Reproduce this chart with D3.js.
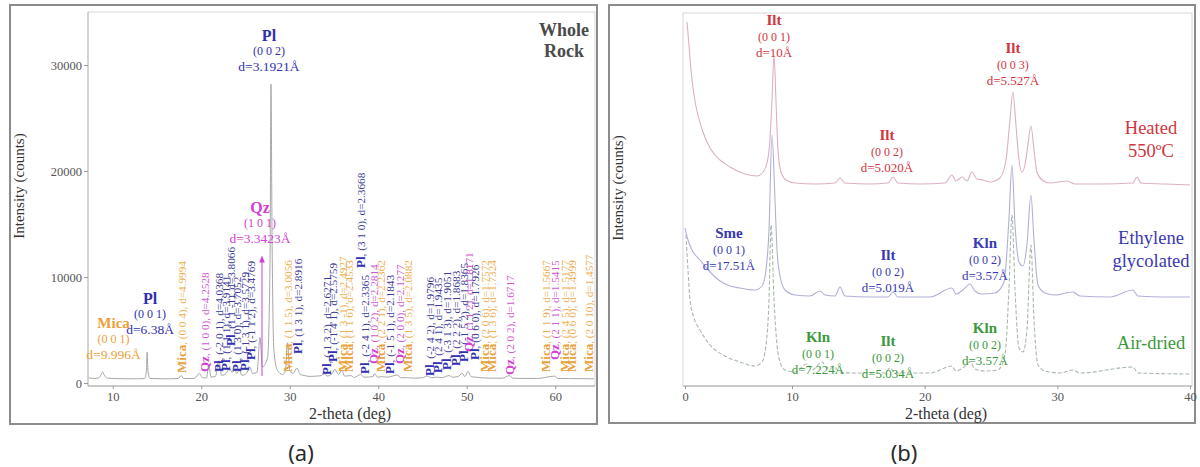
<!DOCTYPE html>
<html>
<head>
<meta charset="utf-8">
<script src="https://cdn.jsdelivr.net/npm/d3@7"></script>
<style>
  body { margin: 0; background: #fff; }
  svg { display: block; }
  svg text { font-family: "Liberation Serif", "Times New Roman", serif; }
  svg text.caption { font-family: "Noto Sans", "Open Sans", sans-serif; }
</style>
</head>
<body>
<svg id="fig" width="1200" height="467"></svg>
<script>
// ---------- Panel (a): whole-rock XRD pattern ----------
const wholeRockTheta = [7.3,7.8,8.4,8.7,8.85,9.0,9.4,10.2,11.5,12.8,13.6,13.8,13.88,13.98,14.2,15.5,16.5,17.4,17.75,18.0,19.2,19.8,20.1,20.6,20.85,21.1,21.6,22.0,22.3,22.8,23.2,23.5,23.7,24.0,24.3,24.6,25.1,25.5,25.8,26.3,26.64,26.9,27.5,27.78,27.88,28.0,28.2,28.6,29.2,29.5,29.75,30.0,30.4,30.8,31.2,31.7,32.2,33.0,33.6,33.9,34.2,34.8,35.1,35.5,35.9,36.2,36.9,37.3,38.0,38.4,39.4,39.6,39.9,40.5,41.0,42.2,42.5,43.3,44.0,45.0,45.6,46.0,46.6,47.2,48.0,48.4,49.0,49.5,49.8,50.15,50.5,51.0,51.6,52.5,54.0,54.85,55.2,56.5,58.0,59.95,60.3,61.5,62.0,64.0,64.4];
const wholeRockCounts = [480,430,480,800,1050,800,460,420,400,400,420,1100,2900,1100,430,400,400,420,700,420,430,900,520,480,1700,560,620,2100,720,900,1400,1000,1600,900,1200,720,900,1500,900,1000,4300,1500,2400,12000,28200,14000,3200,1200,800,1100,3800,1200,900,1400,800,700,620,650,700,1100,650,900,1300,800,1200,650,700,520,800,550,600,900,550,600,550,750,500,500,460,500,650,500,550,500,700,550,600,900,600,1100,600,550,500,460,450,700,450,430,430,650,430,420,420,400,400];

const tickA_x = [10, 20, 30, 40, 50, 60];
const tickA_y = [0, 10000, 20000, 30000];

// main labelled reflections
const mainMineral = ["Pl", "Qz", "Pl", "Mica"];
const mainHkl = ["(0 0 2)", "(1 0 1)", "(0 0 1)", "(0 0 1)"];
const mainD = ["d=3.1921Å", "d=3.3423Å", "d=6.38Å", "d=9.996Å"];
const mainTheta = [27.88, 26.64, 13.88, 8.85];

// minor reflections (vertical labels)
const refMineral = ["Mica","Qz","Pl","Pl","Pl","Pl","Pl","Pl","Mica","Pl","Pl","Pl","Mica","Mica","Pl","Pl","Qz","Mica","Pl","Qz","Mica","Pl","Pl","Pl","Pl","Pl","Qz","Pl","Mica","Mica","Qz","Mica","Qz","Mica","Mica","Mica"];
const refTheta = [17.75,20.4,22.0,22.7,23.35,24.0,24.9,25.6,29.7,30.9,34.1,34.8,36.0,36.6,38.0,38.5,39.45,40.3,41.3,42.45,43.3,45.8,46.7,47.7,48.7,49.6,50.15,50.9,52.0,52.8,54.85,58.9,59.95,61.0,61.8,63.8];
const refHkl = ["(0 0 4)","(1 0 0)","(-2 0 1)","(1 1 1)","(1 1 -1)","(1 3 0)","(-1 3 1)","(-1 1 2)","(1 1 5)","(1 3 1)","(-1 3 2)","(-1 4 1)","(1 3 -1)","(1 1 6)","(3 1 0)","(-2 4 1)","(1 0 2)","(2 2 1)","(-1 5 1)","(2 0 0)","(1 3 5)","(-2 4 2)","(2 4 1)","(-3 1 3)","(2 2 2)","(-1 5 2)","(1 1 2)","(0 6 0)","(2 0 6)","(1 3 6)","(2 0 2)","(1 1 9)","(2 1 1)","(2 4 5)","(0 6 0)","(2 0 10)"];
const refD = ["4.9994","4.2528","4.0368","3.9141","3.8066","3.7052","3.5729","3.4769","3.0056","2.8916","2.6271","2.5759","2.4927","2.4533","2.3668","2.3365","2.2814","2.2362","2.1843","2.1277","2.0882","1.9796","1.9435","1.9051","1.8683","1.8365","1.8171","1.7926","1.7572","1.7324","1.6717","1.5667","1.5415","1.5177","1.4999","1.4577"];

// ---------- Panel (b): oriented clay fraction ----------
const heatedTheta = [0.19,0.37,0.56,0.84,1.21,1.68,2.34,3.27,4.21,5.61,6.73,7.29,7.66,7.94,8.13,8.32,8.50,8.69,8.97,9.44,10.23,11.73,13.24,13.62,13.99,15.88,17.23,17.61,17.99,19.65,21.53,22.06,22.36,22.81,23.19,23.56,23.94,24.39,24.92,25.67,26.13,26.43,26.65,26.88,27.11,27.33,27.56,27.78,28.01,28.24,28.46,28.84,29.44,30.72,31.33,33.21,35.70,36.00,36.30,38.11,40.0];
const heatedCounts = [1640,1410,1160,910,710,540,380,260,190,120,100,140,230,460,860,1310,860,360,140,60,30,20,30,80,30,20,30,90,30,20,30,110,50,90,50,140,70,60,40,80,260,660,940,610,260,140,210,410,600,360,140,60,30,50,20,20,30,90,30,20,10];

const glycolTheta = [0,0.28,0.65,1.40,2.34,3.27,4.21,5.14,6.54,7.20,7.57,7.85,8.13,8.41,8.60,8.88,9.35,10.23,11.36,12.11,12.49,13.24,13.62,13.99,15.88,17.23,17.61,17.99,20.40,22.06,22.36,22.88,23.41,23.79,24.32,25.30,25.98,26.35,26.58,26.81,27.11,27.41,27.71,28.01,28.24,28.54,29.07,29.82,31.18,31.70,33.96,35.70,36.07,38.11,40.0];
const glycolCounts = [700,580,480,380,260,170,120,100,80,120,280,680,1630,980,480,220,80,30,20,70,30,20,110,20,10,10,60,10,10,100,40,80,140,70,40,50,160,780,1330,730,360,320,530,1030,580,130,50,30,60,20,10,80,20,10,10];

const airTheta = [0.09,0.28,0.47,0.84,1.40,2.34,3.74,5.14,6.54,7.20,7.57,7.85,8.04,8.32,8.60,8.88,9.35,10.23,11.13,11.51,12.26,12.64,13.09,13.62,14.75,17.01,17.39,17.76,20.40,22.06,22.36,22.88,23.41,23.79,24.54,25.52,26.05,26.35,26.58,26.81,27.11,27.41,27.71,28.01,28.24,28.54,29.07,30.20,31.18,31.70,35.70,36.07,40.0];
const airCounts = [1390,1040,740,560,440,290,180,120,80,120,290,740,1490,740,290,120,40,20,100,40,120,60,80,20,10,10,60,10,10,80,30,60,120,50,30,40,190,840,1590,840,260,220,440,1290,540,90,30,10,40,10,70,10,0];

const tickB_x = [0, 10, 20, 30, 40];

const clayMineral = ["Ilt","Ilt","Ilt","Sme","Ilt","Kln","Kln","Ilt","Kln"];
const clayHkl = ["(0 0 1)","(0 0 2)","(0 0 3)","(0 0 1)","(0 0 2)","(0 0 2)","(0 0 1)","(0 0 2)","(0 0 2)"];
const clayD = ["d=10Å","d=5.020Å","d=5.527Å","d=17.51Å","d=5.019Å","d=3.57Å","d=7.224Å","d=5.034Å","d=3.57Å"];
const clayTheta = [8.32,17.16,26.65,4.11,17.23,24.54,11.96,17.23,24.54];
const clayTreatment = ["heated","heated","heated","glycolated","glycolated","glycolated","airdried","airdried","airdried"];
const treatmentText = { heated: ["Heated", "550ºC"], glycolated: ["Ethylene", "glycolated"], airdried: ["Air-dried"] };

// ---------- drawing ----------
const svg = d3.select("#fig");
const defs = svg.append("defs");

// panel frames
svg.append("rect").attr("x", 10).attr("y", 5).attr("width", 587).attr("height", 419)
  .attr("fill", "none").attr("stroke", "#8c8c8c").attr("stroke-width", 2);
svg.append("rect").attr("x", 609).attr("y", 5).attr("width", 586).attr("height", 418)
  .attr("fill", "none").attr("stroke", "#8c8c8c").attr("stroke-width", 2);

function styleAxis(g) {
  g.select(".domain").remove();
  g.selectAll("line").attr("stroke", "#9a9a9a");
  g.selectAll("text").attr("font-family", null).attr("font-size", 12.5).attr("fill", "#555");
}

// ----- panel (a) -----
const A = { l: 88, r: 595, t: 12, b: 386 };
const xA = d3.scaleLinear().domain([7.2, 64.5]).range([A.l, A.r]);
const yA = d3.scaleLinear().domain([0, 30000]).range([383, 65]);

defs.append("clipPath").attr("id", "clipA")
  .append("rect").attr("x", A.l).attr("y", A.t).attr("width", A.r - A.l).attr("height", A.b - A.t);

svg.append("rect").attr("x", A.l).attr("y", A.t).attr("width", A.r - A.l).attr("height", A.b - A.t)
  .attr("fill", "none").attr("stroke", "#d8d8d8");
svg.append("line").attr("x1", A.l).attr("x2", A.r).attr("y1", A.b).attr("y2", A.b).attr("stroke", "#aaa");
svg.append("line").attr("x1", A.l).attr("x2", A.l).attr("y1", A.t).attr("y2", A.b).attr("stroke", "#bbb");

svg.append("g").attr("transform", `translate(0,${A.b})`)
  .call(d3.axisBottom(xA).tickValues(tickA_x).tickSize(3).tickPadding(3).tickSizeOuter(0))
  .call(styleAxis);
svg.append("g").attr("transform", `translate(${A.l},0)`)
  .call(d3.axisLeft(yA).tickValues(tickA_y).tickSize(4).tickPadding(2).tickFormat(d3.format("d")))
  .call(styleAxis);

svg.append("text").attr("x", 350).attr("y", 419).attr("text-anchor", "middle")
  .attr("font-size", 16).attr("fill", "#333").text("2-theta (deg)");
svg.append("text").attr("transform", "translate(24,186) rotate(-90)").attr("text-anchor", "middle")
  .attr("font-size", 15).attr("fill", "#333").text("Intensity (counts)");

const mineralColor = { Mica: "#e9a139", Qz: "#d23fd2", Pl: "#3030b0" };
const mineralSoft = { Mica: "#ecb052", Qz: "#cf58cf", Pl: "#3d3d98" };

// pattern
const lineA = d3.line().x(d => xA(d[0])).y(d => yA(d[1])).curve(d3.curveMonotoneX);
svg.append("path").datum(d3.zip(wholeRockTheta, wholeRockCounts))
  .attr("clip-path", "url(#clipA)")
  .attr("d", lineA).attr("fill", "none").attr("stroke", "#a8a8a8").attr("stroke-width", 1);

// vertical reference labels
const refBaseY = [373,372,372,371,346,372,371,360,372,354,375,362,372,372,268,374,364,372,374,364,372,376,373,370,366,362,352,360,372,372,375,372,360,372,372,372];
const refG = svg.append("g");
refMineral.forEach((m, i) => {
  const t = refG.append("text")
    .attr("transform", `translate(${xA(refTheta[i]) + 4.5},${refBaseY[i]}) rotate(-90)`);
  t.append("tspan").attr("font-weight", "bold").attr("font-size", 13).attr("fill", mineralColor[m]).text(m);
  t.append("tspan").attr("font-size", 11.2).attr("fill", mineralSoft[m]).text(`, ${refHkl[i]}, d=${refD[i]}`);
});

// arrow to the quartz (1 0 1) reflection
defs.append("marker").attr("id", "arrowQz").attr("viewBox", "0 0 10 10").attr("refX", 5).attr("refY", 5)
  .attr("markerWidth", 7).attr("markerHeight", 7).attr("orient", "auto")
  .append("path").attr("d", "M0,1 L10,5 L0,9 Z").attr("fill", mineralColor.Qz);
svg.append("line").attr("x1", xA(26.64) + 2).attr("x2", xA(26.64) + 2).attr("y1", 376).attr("y2", 259)
  .attr("stroke", mineralColor.Qz).attr("stroke-width", 1).attr("marker-end", "url(#arrowQz)");

// main labels
const mainLayout = [
  { dx: -2, y: 35, s: 16 }, { dx: 0, y: 207, s: 16 }, { dx: 3, y: 298, s: 16 }, { dx: 11, y: 323, s: 15 }
];
mainMineral.forEach((m, i) => {
  const L = mainLayout[i], x = xA(mainTheta[i]) + L.dx, y0 = L.y;
  const g = svg.append("g").attr("text-anchor", "middle").attr("fill", mineralColor[m]);
  g.append("text").attr("x", x).attr("y", y0).attr("dominant-baseline", "central")
    .attr("font-weight", "bold").attr("font-size", L.s).text(m);
  g.append("text").attr("x", x).attr("y", y0 + 16).attr("dominant-baseline", "central")
    .attr("font-size", 12).text(mainHkl[i]);
  g.append("text").attr("x", x).attr("y", y0 + 31).attr("dominant-baseline", "central")
    .attr("font-size", 13.5).text(mainD[i]);
});

svg.append("g").attr("font-weight", "bold").attr("font-size", 18)
  .attr("fill", "#4a4a4a").attr("text-anchor", "middle")
  .selectAll("text").data(["Whole", "Rock"]).join("text")
  .attr("x", 564).attr("y", (d, i) => 36 + i * 21).text(d => d);

// ----- panel (b) -----
const B = { l: 683, r: 1192, t: 13, b: 386 };
const xB = d3.scaleLinear().domain([0, 10, 40]).range([685, 792, 1190]);
const yB = d3.scaleLinear().domain([0, 3730]).range([B.b, B.t]);

defs.append("clipPath").attr("id", "clipB")
  .append("rect").attr("x", B.l).attr("y", B.t).attr("width", B.r - B.l).attr("height", B.b - B.t);

svg.append("rect").attr("x", B.l).attr("y", B.t).attr("width", B.r - B.l).attr("height", B.b - B.t)
  .attr("fill", "none").attr("stroke", "#d8d8d8");
svg.append("line").attr("x1", B.l).attr("x2", B.r).attr("y1", B.b).attr("y2", B.b).attr("stroke", "#aaa");

svg.append("g").attr("transform", `translate(0,${B.b})`)
  .call(d3.axisBottom(xB).tickValues(tickB_x).tickSize(3).tickPadding(3).tickSizeOuter(0))
  .call(styleAxis);

svg.append("text").attr("x", 946).attr("y", 419).attr("text-anchor", "middle")
  .attr("font-size", 16).attr("fill", "#333").text("2-theta (deg)");
svg.append("text").attr("transform", "translate(623,188) rotate(-90)").attr("text-anchor", "middle")
  .attr("font-size", 15).attr("fill", "#333").text("Intensity (counts)");

const treatColor = { heated: "#d3343e", glycolated: "#3838b2", airdried: "#3b993b" };
const traceColor = { heated: "#dbb0c6", glycolated: "#b0b0d8", airdried: "#a9b8a9" };
const traceOffset = { heated: 2000, glycolated: 880, airdried: 120 };

const lineB = d3.line().x(d => xB(d[0])).y(d => yB(d[1])).curve(d3.curveMonotoneX);
[
  ["airdried", airTheta, airCounts, "4,2"],
  ["glycolated", glycolTheta, glycolCounts, null],
  ["heated", heatedTheta, heatedCounts, null]
].forEach(([key, th, ct, dash]) => {
  svg.append("path")
    .datum(d3.zip(th, ct.map(c => c + traceOffset[key])))
    .attr("clip-path", "url(#clipB)")
    .attr("d", lineB).attr("fill", "none")
    .attr("stroke", traceColor[key]).attr("stroke-width", 1.1)
    .attr("stroke-dasharray", dash);
});

// peak labels
const clayLayoutY = [20, 135, 48, 233, 255, 243, 337, 341, 328];
clayMineral.forEach((m, i) => {
  const x = xB(clayTheta[i]), y0 = clayLayoutY[i];
  const g = svg.append("g").attr("text-anchor", "middle")
    .attr("fill", treatColor[clayTreatment[i]]);
  g.append("text").attr("x", x).attr("y", y0).attr("dominant-baseline", "central")
    .attr("font-weight", "bold").attr("font-size", 15).text(m);
  g.append("text").attr("x", x).attr("y", y0 + 16.5).attr("dominant-baseline", "central")
    .attr("font-size", 12).text(clayHkl[i]);
  g.append("text").attr("x", x).attr("y", y0 + 32).attr("dominant-baseline", "central")
    .attr("font-size", 13).text(clayD[i]);
});

// treatment names
const treatY = { heated: 128, glycolated: 238, airdried: 343 };
Object.keys(treatmentText).forEach(k => {
  svg.append("g").attr("font-size", 18.5).attr("fill", treatColor[k])
    .attr("text-anchor", "middle")
    .selectAll("text").data(treatmentText[k]).join("text")
    .attr("x", 1151).attr("y", (d, i) => treatY[k] + i * 23)
    .attr("dominant-baseline", "central").text(d => d);
});

// panel captions
svg.selectAll("text.caption").data([["(a)", 301], ["(b)", 904]]).join("text")
  .attr("class", "caption").attr("x", d => d[1]).attr("y", 452)
  .attr("text-anchor", "middle").attr("dominant-baseline", "central")
  .attr("font-size", 22).attr("fill", "#2a2a2a")
  .text(d => d[0]);
</script>
</body>
</html>
